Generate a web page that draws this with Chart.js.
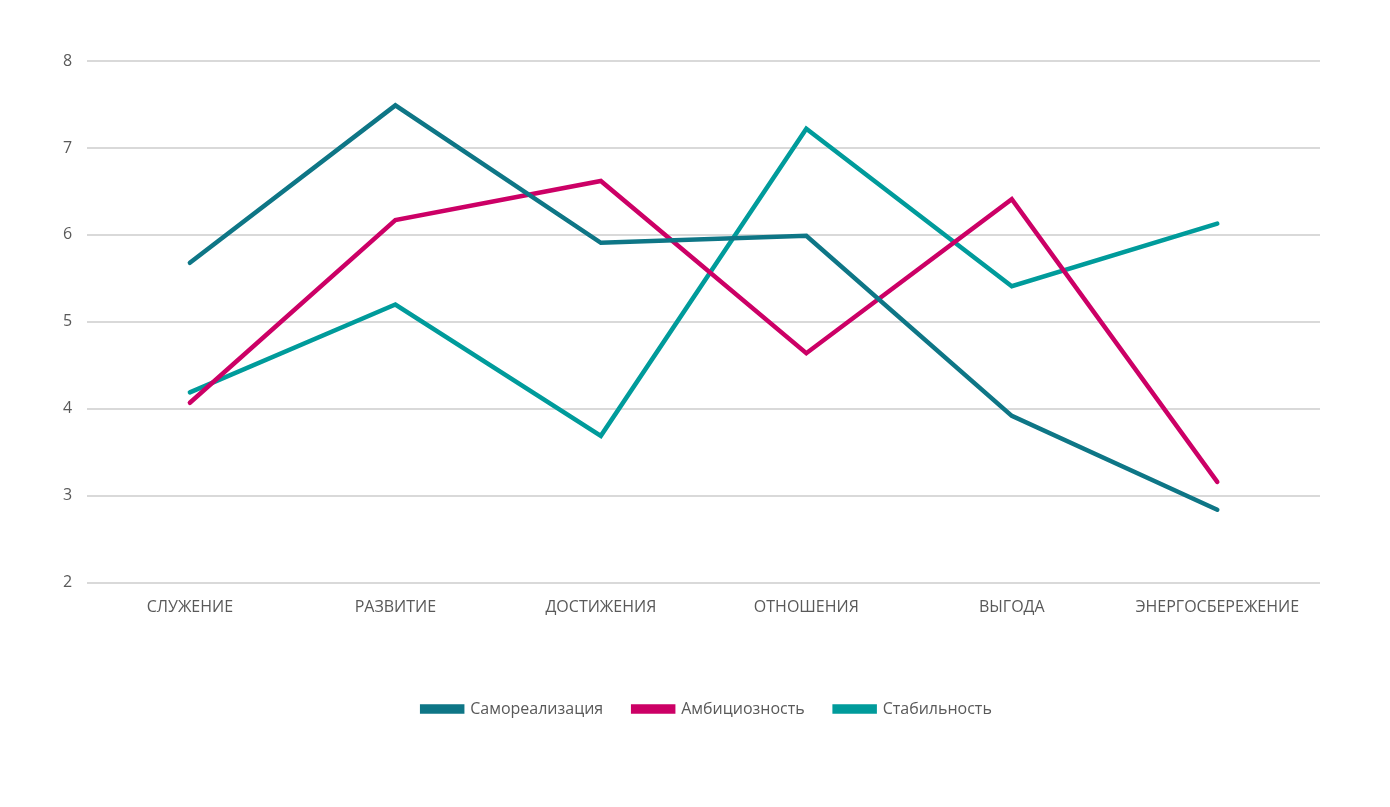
<!DOCTYPE html>
<html>
<head>
<meta charset="utf-8">
<script src="https://cdn.jsdelivr.net/npm/chart.js@4.4.1/dist/chart.umd.min.js"></script>
<style>
  html, body { margin: 0; padding: 0; background: #fff; }
  #wrap { width: 1390px; height: 807px; position: relative; }
</style>
</head>
<body>
<div id="wrap"><canvas id="chart"></canvas></div>
<script>
// categories and series
const categories = ['СЛУЖЕНИЕ', 'РАЗВИТИЕ', 'ДОСТИЖЕНИЯ', 'ОТНОШЕНИЯ', 'ВЫГОДА', 'ЭНЕРГОСБЕРЕЖЕНИЕ'];
const samorealizatsiya = [5.68, 7.49, 5.91, 5.99, 3.92, 2.84];
const ambitsioznost = [4.07, 6.17, 6.62, 4.64, 6.41, 3.16];
const stabilnost = [4.19, 5.2, 3.69, 7.22, 5.41, 6.13];
const yTicks = [2, 3, 4, 5, 6, 7, 8];

const textColor = '#595959';
const fontFamily = '"Open Sans", "Noto Sans", sans-serif';

function series(label, data, color) {
    return {
        label: label,
        data: data,
        borderColor: color,
        backgroundColor: color,
        borderWidth: 4.5,
        borderCapStyle: 'round',
        pointRadius: 0,
        tension: 0,
        fill: false
    };
}

// the legend in the original sits a bit right of the plot centre
const legendShift = {
    id: 'legendShift',
    afterLayout(chart) {
        chart.legend.left += 23;
        chart.legend.right += 23;
    }
};

new Chart(document.getElementById('chart'), {
    type: 'line',
    data: {
        labels: categories,
        datasets: [
            series('Самореализация', samorealizatsiya, '#0E7686'),
            series('Амбициозность', ambitsioznost, '#CC0066'),
            series('Стабильность', stabilnost, '#009B9B')
        ]
    },
    options: {
        responsive: true,
        maintainAspectRatio: false,
        animation: false,
        layout: { padding: { left: 48, right: 70, top: 61, bottom: 80 } },
        scales: {
            x: {
                offset: true,
                grid: { display: false },
                border: { display: false },
                ticks: {
                    color: textColor,
                    font: { family: fontFamily, size: 16 },
                    padding: 7,
                    maxRotation: 0
                },
                // leaves room between the axis labels and the legend
                afterFit(scale) { scale.height += 47; }
            },
            y: {
                min: 2,
                max: 8,
                afterBuildTicks(scale) { scale.ticks = yTicks.map(v => ({ value: v })); },
                grid: { color: '#d9d9d9', lineWidth: 2, drawTicks: false },
                border: { display: false },
                ticks: {
                    color: textColor,
                    font: { family: fontFamily, size: 16 },
                    padding: 15
                }
            }
        },
        plugins: {
            legend: {
                position: 'bottom',
                labels: {
                    color: textColor,
                    font: { family: fontFamily, size: 16 },
                    boxWidth: 40,
                    boxHeight: 5,
                    padding: 30
                }
            },
            tooltip: { enabled: false }
        }
    },
    plugins: [legendShift]
});
</script>
</body>
</html>
